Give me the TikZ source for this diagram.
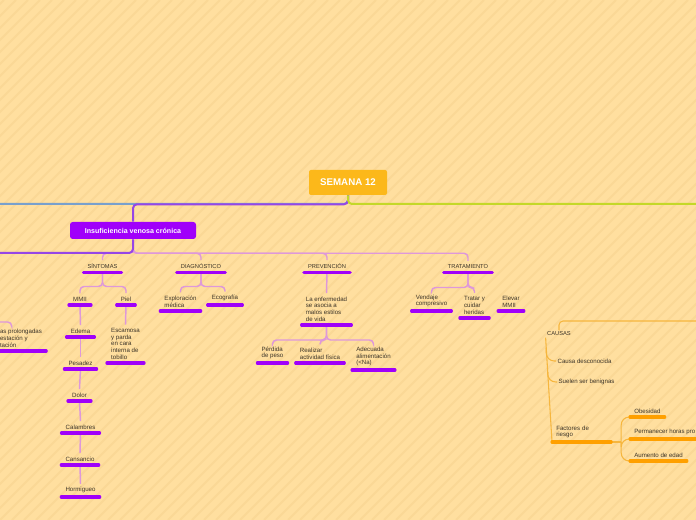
\documentclass[tikz,border=0pt]{standalone}
\usepackage{fontspec}
\setmainfont{Liberation Sans}
\usetikzlibrary{positioning}
\definecolor{paper}{RGB}{255,223,159}
\definecolor{paperline}{RGB}{250,216,150}
\definecolor{amber}{RGB}{252,184,26}
\definecolor{ivcviolet}{RGB}{160,0,250}
\definecolor{trunkviolet}{RGB}{150,70,230}
\definecolor{lilac}{RGB}{222,152,218}
\definecolor{steel}{RGB}{120,160,205}
\definecolor{lime}{RGB}{196,216,40}
\definecolor{causeorange}{RGB}{255,160,0}
\definecolor{causeline}{RGB}{246,182,62}
\definecolor{ink}{RGB}{60,52,40}

\begin{document}
\begin{tikzpicture}[
  x=0.75pt, y=-0.75pt,
  rootbox/.style={fill=amber, rounded corners=1.5pt, text=white, minimum width=58.5pt, minimum height=18.75pt, font=\bfseries\fontsize{7.3}{8}\selectfont},
  mainbox/.style={fill=ivcviolet, rounded corners=2pt, text=white, minimum width=94.5pt, minimum height=12.75pt, font=\bfseries\fontsize{5.3}{6}\selectfont},
  topic/.style={anchor=south, text=ink, inner xsep=3pt, inner ysep=2.6pt, font=\fontsize{4.3}{5}\selectfont},
  leaf/.style={anchor=south, text=ink, align=left, inner xsep=3pt, inner ysep=2.6pt, font=\fontsize{4.6}{5}\selectfont},
  cause/.style={text=ink, align=left, inner sep=1pt, font=\fontsize{4.6}{5}\selectfont},
  bar/.style={ivcviolet, line width=2.3pt, line cap=round},
  causebar/.style={causeorange, line width=2.3pt, line cap=round},
  trunk/.style={trunkviolet, line width=1.5pt, rounded corners=3pt},
  link/.style={lilac, line width=1.1pt, rounded corners=3pt},
  causelink/.style={causeline, line width=0.8pt, rounded corners=6pt}
]
% page and stripes
\useasboundingbox (0,0) rectangle (696,520);
\clip (0,0) rectangle (696,520);
\fill[paper] (0,0) rectangle (696,520);
\foreach \i in {-528,-516,...,696}
  \draw[paperline, line width=1.5pt] (\i,520) -- (\i+520,0);

% central topic
\node[rootbox] (root) at (348,182.5) {SEMANA 12};
\node[mainbox] (ivc) at (133,230.5) {Insuficiencia venosa crónica};
\coordinate (offL) at (-10,204);
\coordinate (offR) at (710,204);
\coordinate (offL2) at (-10,253);
\coordinate (offL3) at (-10,322);
\coordinate (offR2) at (710,321);

% level 1
\node[topic] (sint) at (102.5,272.5) {SÍNTOMAS};
\node[topic] (diag) at (201,272.5) {DIAGNÓSTICO};
\node[topic] (prev) at (327,272.5) {PREVENCIÓN};
\node[topic] (trat) at (468,272.5) {TRATAMIENTO};

% sintomas
\node[leaf] (mmii) at (80,305) {MMII};
\node[leaf] (piel) at (126,305) {Piel};
\node[leaf] (edema) at (80.5,337) {Edema};
\node[leaf] (pesadez) at (80.5,369) {Pesadez};
\node[leaf] (dolor) at (79.5,401) {Dolor};
\node[leaf] (calambres) at (80.5,433) {Calambres};
\node[leaf] (cansancio) at (80,465) {Cansancio};
\node[leaf] (hormigueo) at (80.5,497) {Hormigueo};
\node[leaf] (escamosa) at (125.5,363) {Escamosa\\ y parda\\en cara\\interna de\\tobillo};
\node[leaf] (horas) at (21,351) {as prolongadas\\estación y\\tación};

% diagnostico
\node[leaf] (explor) at (180.5,311) {Exploración\\médica};
\node[leaf] (ecog) at (225,305) {Ecografía};

% prevencion
\node[leaf] (enferm) at (326.5,325) {La enfermedad\\se asocia a\\malos estilos\\de vida};
\node[leaf] (perdida) at (272.5,363) {Pérdida\\de peso};
\node[leaf] (realizar) at (320,363) {Realizar\\actividad física};
\node[leaf] (adecuada) at (373.5,370) {Adecuada\\alimentación\\(<Na)};

% tratamiento
\node[leaf] (vendaje) at (431.5,311) {Vendaje\\compresivo};
\node[leaf] (tratar) at (474.5,318) {Tratar y\\cuidar\\heridas};
\node[leaf] (elevar) at (511,311) {Elevar\\MMII};

% causas
\node[cause, font=\fontsize{4.3}{5}\selectfont] (causas) at (559,334) {CAUSAS};
\node[cause, anchor=west] (desconocida) at (556,361) {Causa desconocida};
\node[cause, anchor=west] (benignas) at (557,382) {Suelen ser benignas};
\node[leaf, anchor=south west, text width=38pt] (factores) at (552,442) {Factores de\\riesgo};
\node[leaf, anchor=south west] (obesidad) at (630,417) {Obesidad};
\node[leaf, anchor=south west] (permanecer) at (630,439) {Permanecer horas pro};
\node[leaf, anchor=south west] (edad) at (630,461) {Aumento de edad};

% trunk
\draw[steel, line width=1.5pt, rounded corners=3pt] (root.south) |- (offL);
\draw[trunk] (root.south) -- ++(0,9) -| (ivc.north);
\draw[lime, line width=1.5pt, rounded corners=3pt] (root.south) |- (offR);
\draw[link] (ivc.south) -- ++(0,14) -| (sint.north);
\draw[link] (ivc.south) -- ++(0,14) -| (diag.north);
\draw[link] (ivc.south) -- ++(0,14) -| (prev.north);
\draw[link] (ivc.south) -- ++(0,14) -| (trat.north);
\draw[trunk] (ivc.south) |- (offL2);

% branches
\draw[link] (sint.south) -- ++(0,14) -| (mmii.north);
\draw[link] (sint.south) -- ++(0,14) -| (piel.north);
\draw[link] (mmii.south) -- (edema.north);
\draw[link] (edema.south) -- (pesadez.north);
\draw[link] (pesadez.south) -- (dolor.north);
\draw[link] (dolor.south) -- (calambres.north);
\draw[link] (calambres.south) -- (cansancio.north);
\draw[link] (cansancio.south) -- (hormigueo.north);
\draw[link] (piel.south) -- (escamosa.north);
\draw[link] (offL3) -| ([xshift=-7pt]horas.north);
\draw[link] (diag.south) -- ++(0,14) -| (explor.north);
\draw[link] (diag.south) -- ++(0,14) -| (ecog.north);
\draw[link] (prev.south) -- (enferm.north);
\draw[link] (enferm.south) -- ++(0,15) -| (perdida.north);
\draw[link] (enferm.south) -- ++(0,15) -| (realizar.north);
\draw[link] (enferm.south) -- ++(0,15) -| (adecuada.north);
\draw[link] (trat.south) -- ++(0,15) -| (vendaje.north);
\draw[link] (trat.south) -- ++(0,15) -| (tratar.north);

% causas branch
\draw[causelink, rounded corners=3pt] (offR2) -| (causas.north);
\draw[causeline, line width=0.8pt] (causas.south west) -- coordinate[pos=0.1] (c1) coordinate[pos=0.33] (c2) (factores.south west);
\draw[causelink] (c1) |- (desconocida.west);
\draw[causelink] (c2) |- (benignas.west);
\draw[causeline, line width=0.8pt] (factores.south east) -- ++(10,0) coordinate (f0);
\draw[causelink] (f0) |- (obesidad.south west);
\draw[causelink] (f0) |- (permanecer.south west);
\draw[causelink] (f0) |- (edad.south west);

% underline bars
\foreach \n in {sint,diag,prev,trat,mmii,piel,edema,pesadez,dolor,calambres,cansancio,hormigueo,escamosa,horas,explor,ecog,enferm,perdida,realizar,adecuada,vendaje,tratar,elevar}
  \draw[bar] (\n.south west) -- (\n.south east);
\foreach \n in {factores,obesidad,permanecer,edad}
  \draw[causebar] (\n.south west) -- (\n.south east);
\end{tikzpicture}
\end{document}
